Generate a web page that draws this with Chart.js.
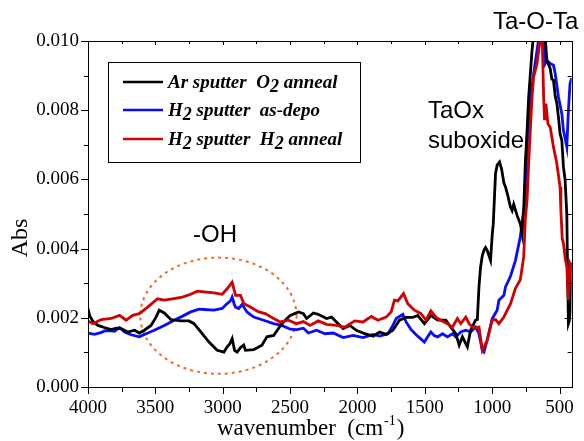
<!DOCTYPE html>
<html>
<head>
<meta charset="utf-8">
<script src="https://cdn.jsdelivr.net/npm/chart.js@4.4.0/dist/chart.umd.min.js"></script>
<style>
  html, body { margin: 0; padding: 0; background: #fff; }
  #ir-chart { display: block; }
</style>
</head>
<body>
<canvas id="ir-chart" width="584" height="441"></canvas>
<script>
// ---- data ----
const arO2X = [4000, 3987, 3960, 3926, 3880, 3828, 3790, 3754, 3705, 3655, 3619, 3582, 3532, 3495, 3471, 3434, 3385, 3311, 3250, 3213,
  3163, 3102, 3041, 2991, 2967, 2947, 2930, 2912, 2893, 2868, 2844, 2831, 2770, 2709, 2672, 2622, 2561, 2499, 2438, 2401,
  2377, 2327, 2291, 2229, 2192, 2156, 2106, 2057, 2008, 1946, 1885, 1835, 1787, 1737, 1688, 1639, 1590, 1553, 1503, 1455,
  1405, 1344, 1307, 1270, 1245, 1221, 1184, 1160, 1123, 1110, 1098, 1086, 1073, 1061, 1049, 1037, 1024, 1012, 999, 992,
  975, 963, 945, 930, 913, 901, 885, 864, 852, 840, 827, 815, 790, 778, 766, 754, 741, 729, 704, 692,
  680, 650, 620, 606, 594, 569, 557, 545, 532, 520, 508, 496, 483, 471, 459, 446, 439, 434, 428, 422, 414, 410];
const arO2Y = [0.00227, 0.00205, 0.00188, 0.00178, 0.00172, 0.00166, 0.00170, 0.00169, 0.00159, 0.00164, 0.00156, 0.00164, 0.00178, 0.00202, 0.00222, 0.00214, 0.00195, 0.00191, 0.00191, 0.00183,
  0.00159, 0.00130, 0.00106, 0.00101, 0.00116, 0.00125, 0.00140, 0.00106, 0.00101, 0.00114, 0.00121, 0.00106, 0.00108, 0.00121, 0.00145, 0.00149, 0.00183, 0.00207, 0.00217, 0.00212,
  0.00198, 0.00214, 0.00210, 0.00198, 0.00202, 0.00188, 0.00169, 0.00178, 0.00164, 0.00154, 0.00147, 0.00159, 0.00152, 0.00164, 0.00193, 0.00201, 0.00201, 0.00207, 0.00183, 0.00207,
  0.00193, 0.00193, 0.00173, 0.00154, 0.00121, 0.00145, 0.00116, 0.00164, 0.00193, 0.00195, 0.00289, 0.00347, 0.00380, 0.00395, 0.00403, 0.00395, 0.00380, 0.00366, 0.00443, 0.00470,
  0.00617, 0.00641, 0.00650, 0.00630, 0.00590, 0.00578, 0.00555, 0.00520, 0.00510, 0.00528, 0.00511, 0.00496, 0.00470, 0.00443, 0.00510, 0.00646, 0.00740, 0.00838, 0.00973, 0.01020,
  0.01100, 0.01150, 0.01100, 0.01010, 0.00944, 0.00920, 0.00890, 0.00887, 0.00840, 0.00820, 0.00780, 0.00732, 0.00713, 0.00636, 0.00600, 0.00500, 0.00299, 0.00183, 0.00190, 0.00212, 0.00347, 0.00360];

const h2DepoX = [4000, 3951, 3900, 3877, 3840, 3803, 3766, 3729, 3680, 3619, 3569, 3508, 3434, 3360, 3287, 3237, 3176, 3139, 3065, 3004,
  2967, 2940, 2930, 2915, 2905, 2881, 2856, 2820, 2770, 2696, 2622, 2561, 2499, 2451, 2401, 2364, 2303, 2241, 2180, 2106,
  2032, 1958, 1885, 1835, 1774, 1737, 1712, 1663, 1639, 1602, 1553, 1503, 1479, 1455, 1430, 1405, 1368, 1332, 1295, 1270,
  1233, 1196, 1160, 1123, 1098, 1073, 1061, 1037, 1000, 963, 950, 913, 901, 864, 827, 791, 766, 754, 741, 729,
  717, 692, 667, 655, 640, 625, 618, 606, 594, 569, 545, 532, 508, 483, 471, 459, 446, 434, 422, 410];
const h2DepoY = [0.00156, 0.00152, 0.00158, 0.00162, 0.00163, 0.00161, 0.00172, 0.00159, 0.00151, 0.00145, 0.00154, 0.00164, 0.00178, 0.00193, 0.00207, 0.00217, 0.00225, 0.00224, 0.00222, 0.00227,
  0.00241, 0.00250, 0.00260, 0.00240, 0.00231, 0.00227, 0.00239, 0.00217, 0.00202, 0.00193, 0.00183, 0.00178, 0.00167, 0.00166, 0.00170, 0.00156, 0.00164, 0.00154, 0.00156, 0.00143,
  0.00149, 0.00143, 0.00152, 0.00147, 0.00154, 0.00178, 0.00198, 0.00210, 0.00188, 0.00166, 0.00147, 0.00130, 0.00145, 0.00159, 0.00149, 0.00145, 0.00154, 0.00145, 0.00154, 0.00145,
  0.00159, 0.00164, 0.00159, 0.00173, 0.00154, 0.00106, 0.00101, 0.00135, 0.00197, 0.00222, 0.00251, 0.00265, 0.00289, 0.00320, 0.00366, 0.00434, 0.00511, 0.00540, 0.00694, 0.00770,
  0.00838, 0.00906, 0.00973, 0.01005, 0.01060, 0.01030, 0.00990, 0.00935, 0.00944, 0.00935, 0.00930, 0.00906, 0.00838, 0.00790, 0.00742, 0.00720, 0.00694, 0.00800, 0.00877, 0.00893];

const h2AnnealX = [4000, 3963, 3938, 3901, 3828, 3766, 3717, 3668, 3619, 3557, 3484, 3434, 3373, 3299, 3237, 3188, 3139, 3065, 3004, 2967,
  2930, 2905, 2868, 2844, 2795, 2733, 2684, 2622, 2573, 2512, 2451, 2401, 2352, 2291, 2229, 2156, 2094, 2020, 1958, 1897,
  1848, 1787, 1750, 1725, 1700, 1658, 1627, 1577, 1528, 1491, 1455, 1418, 1381, 1332, 1295, 1258, 1233, 1196, 1171, 1135,
  1098, 1073, 1037, 1000, 975, 950, 913, 901, 864, 827, 791, 766, 754, 741, 729, 717, 704, 692, 667, 655,
  643, 630, 618, 611, 601, 586, 569, 545, 520, 496, 490, 480, 471, 459, 446, 434, 422, 410];
const h2AnnealY = [0.00191, 0.00183, 0.00188, 0.00195, 0.00198, 0.00207, 0.00193, 0.00207, 0.00212, 0.00231, 0.00255, 0.00251, 0.00255, 0.00260, 0.00268, 0.00277, 0.00275, 0.00272, 0.00268, 0.00284,
  0.00303, 0.00265, 0.00265, 0.00241, 0.00231, 0.00217, 0.00212, 0.00198, 0.00188, 0.00193, 0.00183, 0.00189, 0.00178, 0.00191, 0.00181, 0.00178, 0.00173, 0.00191, 0.00188, 0.00204,
  0.00193, 0.00202, 0.00217, 0.00251, 0.00249, 0.00270, 0.00241, 0.00222, 0.00212, 0.00193, 0.00220, 0.00202, 0.00193, 0.00183, 0.00173, 0.00198, 0.00183, 0.00202, 0.00183, 0.00169,
  0.00173, 0.00106, 0.00135, 0.00193, 0.00195, 0.00183, 0.00202, 0.00212, 0.00240, 0.00285, 0.00310, 0.00376, 0.00486, 0.00540, 0.00646, 0.00742, 0.00838, 0.00896, 0.00935, 0.00973,
  0.01000, 0.01040, 0.00838, 0.00771, 0.00819, 0.00761, 0.00751, 0.00694, 0.00646, 0.00578, 0.00511, 0.00430, 0.00415, 0.00376, 0.00347, 0.00251, 0.00357, 0.00347];

// legend labels, split so the "2" can be set as a subscript
const seriesLabels = [
  [['Ar sputter  O', false], ['2', true], [' anneal', false]],
  [['H', false], ['2', true], [' sputter  as-depo', false]],
  [['H', false], ['2', true], [' sputter  H', false], ['2', true], [' anneal', false]]
];
const seriesColors = ['#000000', '#0a0aff', '#d00000'];

// axis ticks
const wavenumberTicks = [4000, 3500, 3000, 2500, 2000, 1500, 1000, 500];
const wavenumberMinor = [3750, 3250, 2750, 2250, 1750, 1250, 750];
const absTicks = [0, 0.002, 0.004, 0.006, 0.008, 0.010];
const absMinor = [0.001, 0.003, 0.005, 0.007, 0.009];

// the dotted -OH ring, in data units (centre, half widths)
const ohRing = { x: 3032, y: 0.00206, rx: 580, ry: 0.00168 };

const SERIF = '"Liberation Serif", "Times New Roman", serif';
const SANS = '"Liberation Sans", Arial, sans-serif';

function toPoints(xs, ys) {
  return xs.map((x, i) => ({ x: x, y: ys[i] }));
}

// draws the ring behind the spectra
const ringPlugin = {
  id: 'ohRing',
  beforeDatasetsDraw(chart) {
    const { ctx, scales: { x, y } } = chart;
    const cx = x.getPixelForValue(ohRing.x);
    const cy = y.getPixelForValue(ohRing.y);
    const rx = Math.abs(x.getPixelForValue(ohRing.x + ohRing.rx) - cx);
    const ry = Math.abs(y.getPixelForValue(ohRing.y + ohRing.ry) - cy);
    ctx.save();
    ctx.strokeStyle = '#f26a28';
    ctx.lineWidth = 2;
    ctx.setLineDash([3, 4]);
    ctx.beginPath();
    ctx.ellipse(cx, cy, rx, ry, 0, 0, Math.PI * 2);
    ctx.stroke();
    ctx.restore();
  }
};

// frame, tick marks, titles, legend box and text labels
const framePlugin = {
  id: 'frame',
  afterDraw(chart) {
    const { ctx, chartArea: a, scales: { x, y } } = chart;
    ctx.save();
    ctx.strokeStyle = '#000';
    ctx.lineWidth = 1;
    ctx.strokeRect(Math.round(a.left) + 0.5, Math.round(a.top) + 0.5,
      Math.round(a.right - a.left), Math.round(a.bottom - a.top));

    const tick = (x1, y1, x2, y2) => {
      ctx.beginPath();
      ctx.moveTo(x1, y1);
      ctx.lineTo(x2, y2);
      ctx.stroke();
    };
    wavenumberTicks.concat(wavenumberMinor).forEach(v => {
      const major = wavenumberTicks.includes(v);
      const px = Math.round(x.getPixelForValue(v)) + 0.5;
      tick(px, a.bottom, px, a.bottom + (major ? 7 : 5));
      tick(px, a.top, px, a.top + (major ? 4 : 3));
    });
    absTicks.concat(absMinor).forEach(v => {
      const major = absTicks.includes(v);
      const py = Math.round(y.getPixelForValue(v)) + 0.5;
      tick(a.left, py, a.left - (major ? 7 : 4), py);
      tick(a.right, py, a.right - (major ? 7 : 4), py);
    });

    // axis titles
    ctx.fillStyle = '#000';
    ctx.font = '24px ' + SERIF;
    ctx.textBaseline = 'alphabetic';
    ctx.save();
    ctx.translate(27, 238);
    ctx.rotate(-Math.PI / 2);
    ctx.textAlign = 'center';
    ctx.fillText('Abs', 0, 0);
    ctx.restore();

    ctx.textAlign = 'left';
    let tx = 217;
    const base = 435;
    ctx.font = '23px ' + SERIF;
    ctx.fillText('wavenumber  (cm', tx, base);
    tx += ctx.measureText('wavenumber  (cm').width;
    ctx.font = '14px ' + SERIF;
    ctx.fillText('-1', tx + 1, base - 10);
    tx += ctx.measureText('-1').width + 2;
    ctx.font = '23px ' + SERIF;
    ctx.fillText(')', tx, base);

    // legend
    ctx.strokeRect(108.5, 62.5, 252, 100);
    const rows = [82, 110, 139];
    seriesLabels.forEach((parts, i) => {
      ctx.strokeStyle = seriesColors[i];
      ctx.lineWidth = 2.5;
      tick(123, rows[i], 163, rows[i]);
      let lx = 168;
      parts.forEach(([text, sub]) => {
        ctx.font = sub ? 'bold italic 18px ' + SERIF : 'bold italic 19px ' + SERIF;
        ctx.fillText(text, lx, rows[i] + 6 + (sub ? 4 : 0));
        lx += ctx.measureText(text).width;
      });
    });

    // band labels
    ctx.font = '24px ' + SANS;
    ctx.fillText('Ta-O-Ta', 493, 29);
    ctx.fillText('TaOx', 428, 118);
    ctx.fillText('suboxide', 428, 148);
    ctx.fillText('-OH', 193, 242);
    ctx.restore();
  }
};

function lineSet(xs, ys, color, order) {
  return {
    data: toPoints(xs, ys),
    borderColor: color,
    borderWidth: 2.8,
    pointRadius: 0,
    tension: 0,
    fill: false,
    order: order
  };
}

new Chart(document.getElementById('ir-chart'), {
  type: 'line',
  data: {
    datasets: [
      lineSet(arO2X, arO2Y, seriesColors[0], 1),
      lineSet(h2DepoX, h2DepoY, seriesColors[1], 2),
      lineSet(h2AnnealX, h2AnnealY, seriesColors[2], 0)
    ]
  },
  options: {
    responsive: false,
    animation: false,
    devicePixelRatio: 1,
    layout: { padding: { top: 41, right: 9, left: 0, bottom: 0 } },
    plugins: {
      legend: { display: false },
      tooltip: { enabled: false }
    },
    scales: {
      x: {
        type: 'linear',
        reverse: true,
        min: 410,
        max: 4000,
        afterBuildTicks: scale => { scale.ticks = wavenumberTicks.map(v => ({ value: v })); },
        afterFit: scale => { scale.height = 54; },
        grid: { display: false, drawTicks: false },
        border: { display: false },
        ticks: {
          color: '#000',
          padding: 10,
          maxRotation: 0,
          autoSkip: false,
          font: { family: SERIF, size: 19 },
          callback: v => String(v)
        }
      },
      y: {
        type: 'linear',
        min: 0,
        max: 0.010,
        afterBuildTicks: scale => { scale.ticks = absTicks.map(v => ({ value: v })); },
        afterFit: scale => { scale.width = 88; },
        grid: { display: false, drawTicks: false },
        border: { display: false },
        ticks: {
          color: '#000',
          padding: 9,
          autoSkip: false,
          font: { family: SERIF, size: 19 },
          callback: v => v.toFixed(3)
        }
      }
    }
  },
  plugins: [ringPlugin, framePlugin]
});
</script>
</body>
</html>
